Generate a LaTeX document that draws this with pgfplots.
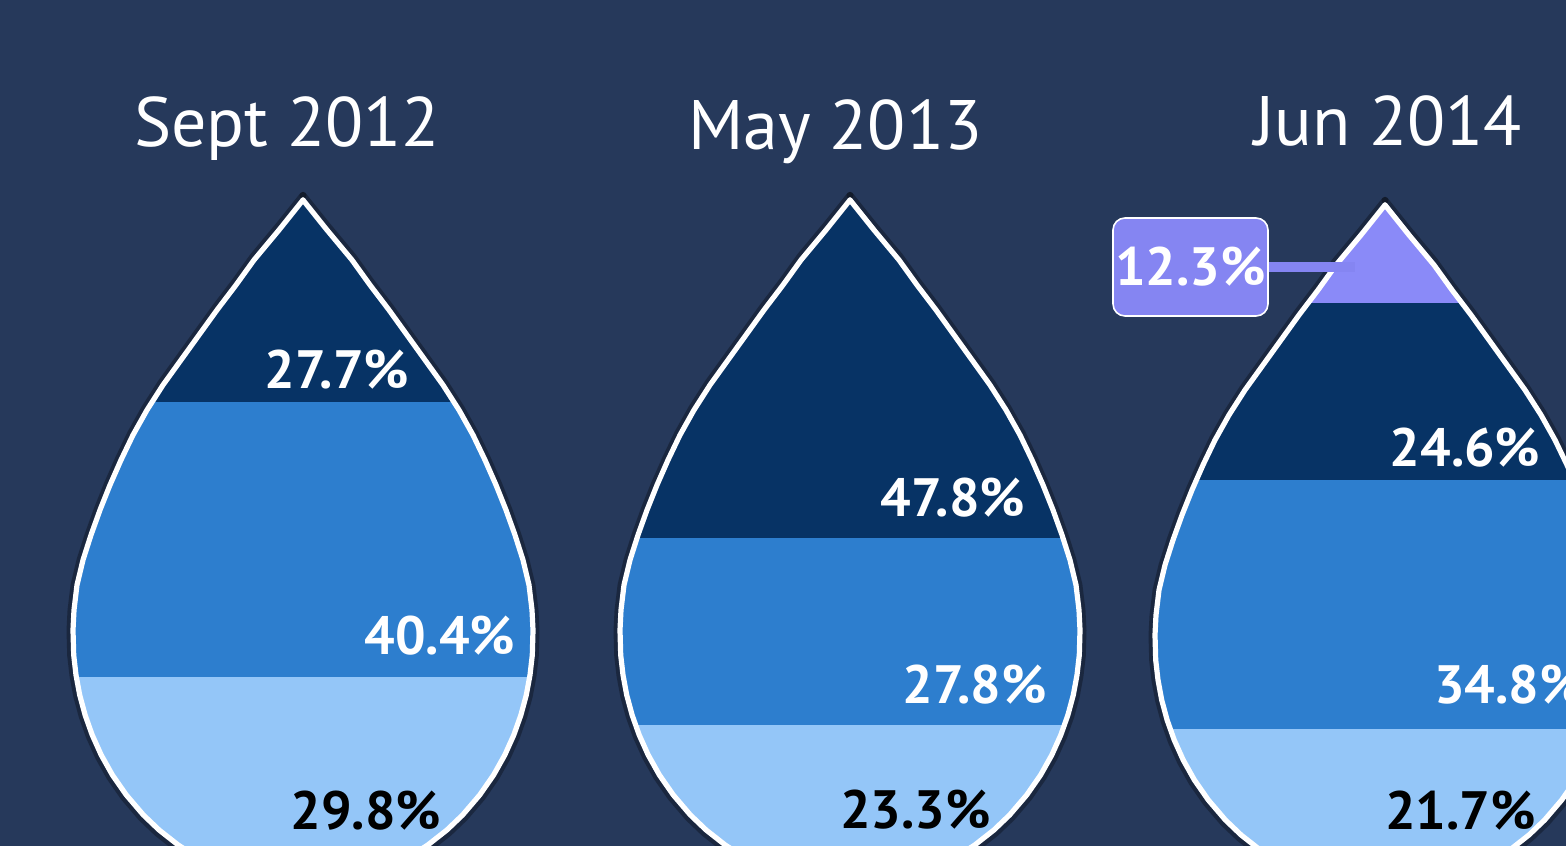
\documentclass[border=0pt]{standalone}
\usepackage{fontspec}
\setmainfont{PT Sans}
\usepackage{pgfplots}
\usepackage{pgfplotstable}
\pgfplotsset{compat=1.18}

\definecolor{bg}{HTML}{26395B}
\definecolor{cdark}{HTML}{073365}
\definecolor{cmid}{HTML}{2D7ECE}
\definecolor{clight}{HTML}{94C6F8}
\definecolor{clav}{HTML}{8A8AF8}
\definecolor{cbox}{HTML}{8585F2}

\tikzset{
  pctlabel/.style={font=\fontsize{27bp}{32bp}\selectfont\bfseries, inner sep=0pt, anchor=center},
  droptitle/.style={font=\fontsize{35bp}{42bp}\selectfont, text=white, inner sep=0pt, anchor=base},
}

% left half of the drop outline: u = offset from centre, v = height above drop bottom (px)
\pgfplotstableread{
u v
0 685
-24 655
-49 625
-67 600
-86 575
-104 550
-122 525
-140 500
-156 475
-170 450
-182 425
-193 400
-203 375
-212 350
-220 325
-226 300
-229 275
-230 255
-229.3 230
-227.0 210
-223.3 190
-217.9 170
-210.8 150
-201.8 130
-190.6 110
-176.7 90
-159.6 70
-143.9 55
-124.8 40
-109.2 30
-90.1 20
-70.4 12
-50.1 6
-29.0 2
0 0
}\dropshape

% same outline closed against the side of the drop's box (mask outside the drop)
\pgfplotstableread{
u v
0 685
-24 655
-49 625
-67 600
-86 575
-104 550
-122 525
-140 500
-156 475
-170 450
-182 425
-193 400
-203 375
-212 350
-220 325
-226 300
-229 275
-230 255
-229.3 230
-227.0 210
-223.3 190
-217.9 170
-210.8 150
-201.8 130
-190.6 110
-176.7 90
-159.6 70
-143.9 55
-124.8 40
-109.2 30
-90.1 20
-70.4 12
-50.1 6
-29.0 2
0 0
0 -10
-250 -10
-250 695
0 695
}\maskshape

% centre x, base y
\newcommand{\dropmask}[2]{%
  \addplot[fill=bg, draw=none, forget plot] table[x expr=\thisrow{u}+#1, y expr=\thisrow{v}+#2]{\maskshape};
  \addplot[fill=bg, draw=none, forget plot] table[x expr=-\thisrow{u}+#1, y expr=\thisrow{v}+#2]{\maskshape};
}
% soft dark halo just outside the outline
\newcommand{\dropshadow}[2]{%
  \addplot[black, opacity=0.3, line width=3.5bp, line join=round, line cap=round, forget plot]
    table[x expr=\thisrow{u}*1.013+#1, y expr=(\thisrow{v}-300)*1.012+300+#2]{\dropshape};
  \addplot[black, opacity=0.3, line width=3.5bp, line join=round, line cap=round, forget plot]
    table[x expr=-\thisrow{u}*1.013+#1, y expr=(\thisrow{v}-300)*1.012+300+#2]{\dropshape};
}
\newcommand{\dropline}[2]{%
  \addplot[white, line width=2.6bp, line join=round, line cap=round, forget plot] table[x expr=\thisrow{u}+#1, y expr=\thisrow{v}+#2]{\dropshape};
  \addplot[white, line width=2.6bp, line join=round, line cap=round, forget plot] table[x expr=-\thisrow{u}+#1, y expr=\thisrow{v}+#2]{\dropshape};
}
% band: colour, left x, right x, lower y, upper y
\newcommand{\band}[5]{%
  \addplot[fill=#1, draw=none, forget plot] coordinates {(#2,#4) (#3,#4) (#3,#5) (#2,#5)};
}

\begin{document}
\begin{tikzpicture}
\useasboundingbox (0,0) rectangle (783bp,423bp);
\fill[bg] (0,0) rectangle (783bp,423bp);
\begin{axis}[
  scale only axis, width=783bp, height=423bp,
  xmin=0, xmax=1566, ymin=0, ymax=846,
  hide axis,
]
% Sept 2012 (centre 303): 29.8 / 40.4 / 27.7
\band{clight}{60}{546}{-50}{169}
\band{cmid}{60}{546}{169}{444}
\band{cdark}{60}{546}{444}{650}
% May 2013 (centre 850): 23.3 / 27.8 / 47.8
\band{clight}{607}{1093}{-50}{121}
\band{cmid}{607}{1093}{121}{308}
\band{cdark}{607}{1093}{308}{650}
% Jun 2014 (centre 1385): 21.7 / 34.8 / 24.6 / 12.3
\band{clight}{1142}{1628}{-50}{117}
\band{cmid}{1142}{1628}{117}{366}
\band{cdark}{1142}{1628}{366}{543}
\band{clav}{1142}{1628}{543}{645}

\dropmask{303}{-39}
\dropmask{850}{-39}
\dropmask{1385}{-44}

\dropshadow{303}{-39}
\dropshadow{850}{-39}
\dropshadow{1385}{-44}

\dropline{303}{-39}
\dropline{850}{-39}
\dropline{1385}{-44}

% connector for the 12.3% call-out
\addplot[cbox, line width=5bp, forget plot] coordinates {(1266,578.5) (1355,578.5)};

% titles
\node[droptitle] at (axis cs:287,699) {Sept 2012};
\node[droptitle] at (axis cs:835.5,696) {May 2013};
\node[droptitle] at (axis cs:1388,700) {Jun 2014};

% value labels
\node[pctlabel, text=white] at (axis cs:337,476) {27.7\%};
\node[pctlabel, text=white] at (axis cs:440,210) {40.4\%};
\node[pctlabel, text=black] at (axis cs:366,35) {29.8\%};
\node[pctlabel, text=white] at (axis cs:953,348) {47.8\%};
\node[pctlabel, text=white] at (axis cs:974.5,161.5) {27.8\%};
\node[pctlabel, text=black] at (axis cs:915.5,36) {23.3\%};
\node[pctlabel, text=white] at (axis cs:1465,398.5) {24.6\%};
\node[pctlabel, text=white] at (axis cs:1509.5,161) {34.8\%};
\node[pctlabel, text=black] at (axis cs:1460.5,35.5) {21.7\%};
\node[pctlabel, text=white, fill=cbox, draw=white, line width=0.8bp, rounded corners=6bp,
      minimum width=77.5bp, minimum height=49bp] at (axis cs:1190.5,579) {12.3\%};
\end{axis}
\end{tikzpicture}
\end{document}
